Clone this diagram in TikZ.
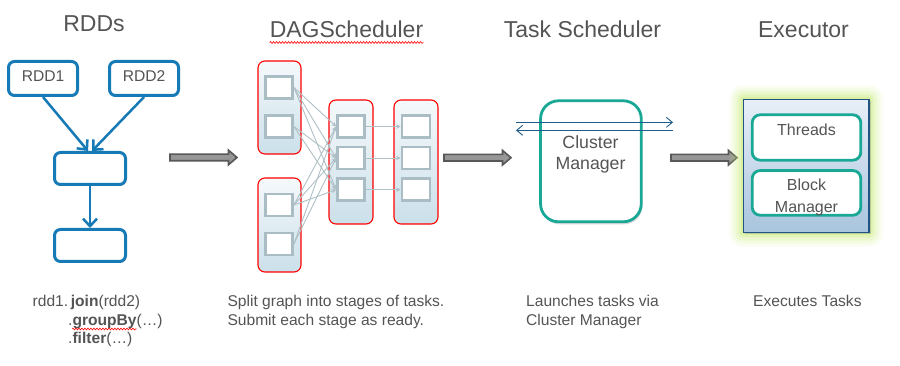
\documentclass[tikz,border=0pt]{standalone}
\usepackage{fontspec}
\setmainfont{Liberation Sans}
\usetikzlibrary{arrows.meta,calc,shadows,decorations.pathmorphing}
\definecolor{txt}{RGB}{84,84,84}
\definecolor{rddblue}{RGB}{22,122,182}
\definecolor{stagetop}{RGB}{245,249,251}
\definecolor{stagebot}{RGB}{203,224,234}
\definecolor{taskgray}{RGB}{170,189,197}
\definecolor{depgray}{RGB}{175,192,198}
\definecolor{tealc}{RGB}{26,168,150}
\definecolor{thinblue}{RGB}{30,92,138}
\definecolor{exectop}{RGB}{232,239,248}
\definecolor{execbot}{RGB}{168,196,222}
\definecolor{execborder}{RGB}{31,84,132}
\definecolor{glowc}{RGB}{205,236,130}
\definecolor{arrdark}{RGB}{88,88,88}
\definecolor{arrfill}{RGB}{150,150,150}
\newcommand\bigarr[2]{\draw[bigarrow] ($(#1)+(0,-3.3)$) -- ($(#2)+(-8.5,-3.3)$) -- ($(#2)+(-8.5,-7.3)$) -- (#2) -- ($(#2)+(-8.5,7.3)$) -- ($(#2)+(-8.5,3.3)$) -- ($(#1)+(0,3.3)$) -- cycle;}
\begin{document}
\begin{tikzpicture}[x=1pt,y=-1pt,
  title/.style={font=\fontsize{23}{27}\selectfont, text=txt, inner sep=0pt, anchor=base},
  body/.style={font=\fontsize{15.6}{19}\selectfont, text=txt, inner sep=0pt, anchor=base west},
  inlbl/.style={font=\fontsize{16}{20}\selectfont, text=txt, inner sep=0pt, anchor=base},
  rddbox/.style={draw=rddblue, line width=3pt, rounded corners=6pt, fill=white,
    minimum width=69pt, minimum height=34pt, inner sep=0pt,
    font=\fontsize{15.6}{19}\selectfont, text=txt,
    drop shadow={opacity=0.25, shadow xshift=1pt, shadow yshift=-1.5pt}},
  rddarrow/.style={draw=rddblue, line width=2.5pt, -{Straight Barb[length=7.5pt,width=14pt]}},
  stagebox/.style={draw=red, line width=1.1pt, rounded corners=7pt, top color=stagetop,
    bottom color=stagebot, minimum width=43pt, inner sep=0pt},
  taskbox/.style={draw=taskgray, line width=2.8pt, fill=white, minimum width=27pt,
    minimum height=22pt, inner sep=0pt},
  dep/.style={draw=depgray, line width=0.9pt, -{Stealth[length=4.5pt,width=4.5pt]}},
  tealbox/.style={draw=tealc, line width=2.8pt, fill=white, inner sep=0pt},
  thinarrow/.style={draw=thinblue, line width=0.9pt, -{Straight Barb[length=6pt,width=10pt]}},
  bigarrow/.style={fill=arrfill, draw=arrdark, line width=1.6pt, line join=miter},
  squiggle/.style={draw=red, line width=0.6pt, decorate,
    decoration={snake, amplitude=0.9pt, segment length=3pt}}
]
\useasboundingbox (0,0) rectangle (900,366);

% ---------- titles ----------
\node[title] (rddt) at (94,32) {RDDs};
\node[title] (dagt) at (346.5,38) {DAGScheduler};
\node[title] (tst) at (582.5,38) {Task Scheduler};
\node[title] (ext) at (803.5,38) {Executor};
\draw[squiggle] ($(dagt.base west)+(0,4.5)$) -- ($(dagt.base east)+(0,4.5)$);

% ---------- RDDs ----------
\node[rddbox, text height=11.5pt, text depth=4.5pt] (rdd1) at (43,78.5) {RDD1};
\node[rddbox, text height=11.5pt, text depth=4.5pt] (rdd2) at (144,78.5) {RDD2};
\node[rddbox, minimum width=71pt, minimum height=32pt] (mid) at (90,168.5) {};
\node[rddbox, minimum width=71pt, minimum height=32pt] (bot) at (90,245.5) {};
\draw[rddarrow] (rdd1.south) -- ($(mid.north)+(-2,0)$);
\draw[rddarrow] (rdd2.south) -- ($(mid.north)+(2,0)$);
\draw[rddarrow] (mid.south) -- (bot.north);

\node[body] (code1) at (32.5,306.7) {rdd1.\,\textbf{join}(rdd2)};
\node[body] (code2) at (68,325.2) {.\textbf{groupBy}(…)};
\node[body] (code3) at (68,343.7) {.\textbf{filter}(…)};
\draw[squiggle] ($(code2.base west)+(4,3.8)$) -- ++(64.5,0);

% ---------- big arrows ----------
\coordinate (a1s) at (170,157.5);
\coordinate (a1e) at (237,157.5);
\coordinate (a2s) at (444,157.7);
\coordinate (a2e) at (511,157.7);
\coordinate (a3s) at (671,157.7);
\coordinate (a3e) at (737,157.7);
\bigarr{a1s}{a1e}
\bigarr{a2s}{a2e}
\bigarr{a3s}{a3e}

% ---------- DAG ----------
\node[stagebox, minimum height=93pt] (sA) at (279.5,107.5) {};
\node[stagebox, minimum height=94pt] (sB) at (279.5,225) {};
\node[stagebox, minimum width=44pt, minimum height=124pt] (sC) at (351,162) {};
\node[stagebox, minimum width=44pt, minimum height=124pt] (sD) at (416,162) {};

\node[taskbox] (a1) at (279,87.5) {};
\node[taskbox] (a2) at (279,126.5) {};
\node[taskbox] (b1) at (279,205) {};
\node[taskbox] (b2) at (279,244) {};
\node[taskbox] (c1) at (351,126.5) {};
\node[taskbox] (c2) at (351,158) {};
\node[taskbox] (c3) at (351,189.7) {};
\node[taskbox, minimum width=28pt] (d1) at (416,126.5) {};
\node[taskbox, minimum width=28pt] (d2) at (416,158) {};
\node[taskbox, minimum width=28pt] (d3) at (416,189.7) {};

\foreach \s/\t in {a1/c1,a1/c2,a1/c3,a2/c2,a2/c3,b1/c1,b1/c2,b1/c3,b2/c1,b2/c2}
  \draw[dep] (\s.east) -- (\t.west);
\foreach \s/\t in {c1/d1,c2/d2,c3/d3}
  \draw[dep] (\s.east) -- (\t.west);

% ---------- Task scheduler ----------
\node[tealbox, rounded corners=18pt, minimum width=100.7pt, minimum height=121pt,
  drop shadow={opacity=0.3, shadow xshift=1pt, shadow yshift=-2.5pt}] (cm) at (590.9,161.3) {};
\node[inlbl, font=\fontsize{17.7}{21}\selectfont] (cmt1) at (590.5,149) {Cluster};
\node[inlbl, font=\fontsize{17.7}{21}\selectfont] (cmt2) at (590.5,170) {Manager};
\coordinate (tl1) at (516,122.3);
\coordinate (tr1) at (673,122.3);
\coordinate (tl2) at (516,130.3);
\coordinate (tr2) at (673,130.3);
\draw[thinarrow] (tl1) -- (tr1);
\draw[thinarrow] (tr2) -- (tl2);

% ---------- Executor ----------
\foreach \g/\o in {14/0.10,11/0.14,8/0.2,5/0.28,2.5/0.4}
  \fill[glowc, opacity=\o, rounded corners=\g pt] (743.3-\g,99.3-\g) rectangle (869+\g,232.7+\g);
\node[draw=execborder, line width=1.2pt, top color=exectop, bottom color=execbot,
  minimum width=125.7pt, minimum height=133.4pt, inner sep=0pt,
  drop shadow={opacity=0.35, shadow xshift=1.5pt, shadow yshift=-1.5pt}] (exec) at (806.15,166) {};
\node[tealbox, rounded corners=8pt, minimum width=108.6pt, minimum height=45.4pt,
  font=\fontsize{16}{20}\selectfont, text=txt, text height=11.5pt, text depth=14.5pt] (thr) at (806.5,137.5) {Threads};
\node[tealbox, rounded corners=8pt, minimum width=108.6pt, minimum height=44.7pt] (bm) at (806.5,192.9) {};
\node[inlbl] (bmt1) at (806.5,191) {Block};
\node[inlbl] (bmt2) at (806.5,212.7) {Manager};

% ---------- descriptions ----------
\node[body] (dag1) at (227.3,306.7) {Split graph into stages of tasks.};
\node[body] (dag2) at (227.3,325.7) {Submit each stage as ready.};
\node[body] (ts1) at (526,306.7) {Launches tasks via};
\node[body] (ts2) at (526,325.7) {Cluster Manager};
\node[body] (ex1) at (753,306.7) {Executes Tasks};
\end{tikzpicture}
\end{document}
